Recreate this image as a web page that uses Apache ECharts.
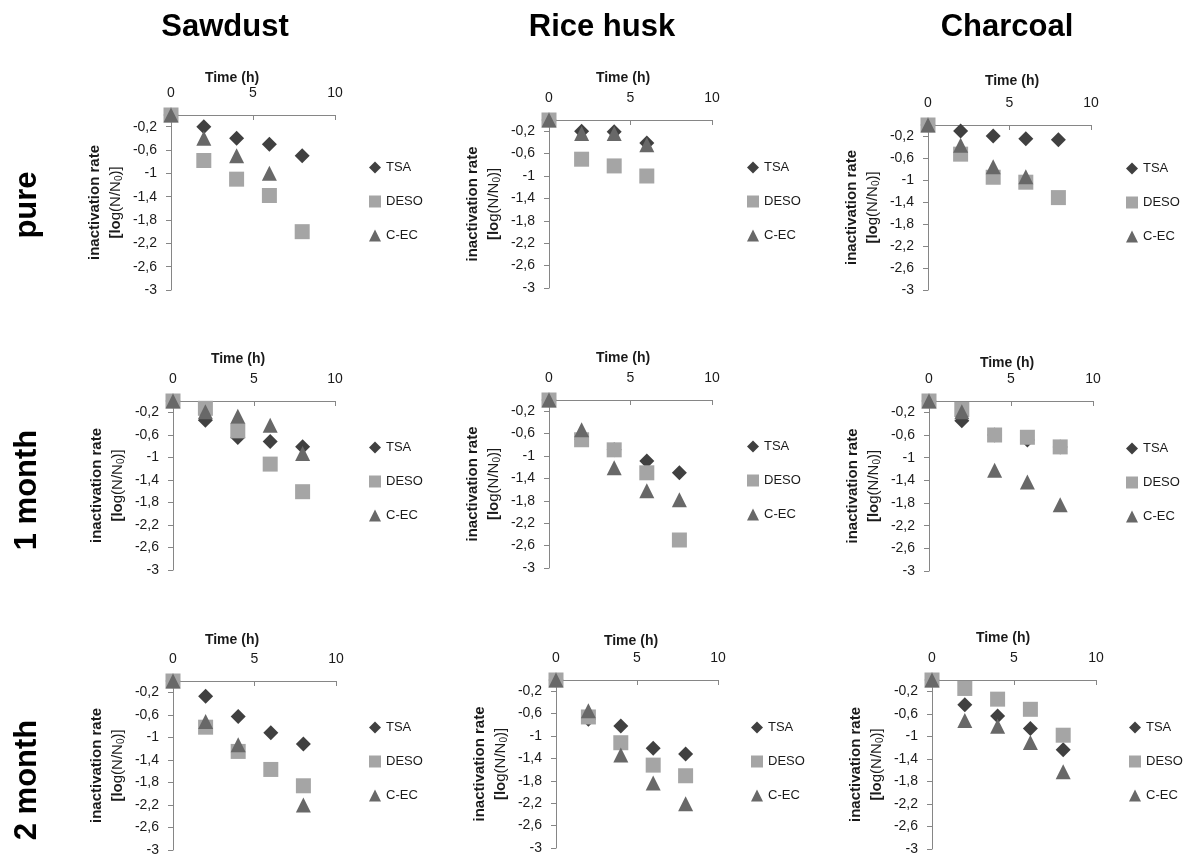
<!DOCTYPE html>
<html>
<head>
<meta charset="utf-8">
<script src="https://cdn.jsdelivr.net/npm/echarts@6/dist/echarts.min.js"></script>
<style>
  html, body { margin: 0; padding: 0; background: #ffffff; }
  #chart { width: 1185px; height: 857px; }
</style>
</head>
<body>
<div id="chart"></div>
<script>
// ---- categories and ticks ----
const materials = ['Sawdust', 'Rice husk', 'Charcoal'];
const ages = ['pure', '1 month', '2 month'];
const seriesNames = ['TSA', 'DESO', 'C-EC'];
const timePoints = [0, 2, 4, 6, 8];
const yTicks = [-3, -2.6, -2.2, -1.8, -1.4, -1, -0.6, -0.2];

// ---- inactivation rate log(N/N0) at each time point (null = not measured) ----
// pure
const sawdustPureTSA   = [0, -0.20, -0.40, -0.50, -0.70];
const sawdustPureDESO  = [0, -0.78, -1.10, -1.38, -2.00];
const sawdustPureCEC   = [0, -0.40, -0.70, -1.00, null];
const riceHuskPureTSA  = [0, -0.20, -0.21, -0.41, null];
const riceHuskPureDESO = [0, -0.70, -0.82, -1.00, null];
const riceHuskPureCEC  = [0, -0.24, -0.24, -0.44, null];
const charcoalPureTSA  = [0, -0.11, -0.20, -0.25, -0.27];
const charcoalPureDESO = [0, -0.53, -0.95, -1.04, -1.32];
const charcoalPureCEC  = [0, -0.37, -0.76, -0.94, null];
// 1 month
const sawdust1mTSA   = [0, -0.34, -0.65, -0.72, -0.81];
const sawdust1mDESO  = [0, -0.13, -0.53, -1.12, -1.61];
const sawdust1mCEC   = [0, -0.19, -0.27, -0.43, -0.93];
const riceHusk1mTSA  = [0, -0.70, -0.89, -1.09, -1.30];
const riceHusk1mDESO = [0, -0.71, -0.89, -1.30, -2.50];
const riceHusk1mCEC  = [0, -0.53, -1.21, -1.62, -1.78];
const charcoal1mTSA  = [0, -0.35, -0.60, -0.69, -0.81];
const charcoal1mDESO = [0, -0.15, -0.60, -0.64, -0.81];
const charcoal1mCEC  = [0, -0.19, -1.22, -1.43, -1.83];
// 2 month
const sawdust2mTSA   = [0, -0.27, -0.63, -0.92, -1.12];
const sawdust2mDESO  = [0, -0.82, -1.25, -1.57, -1.86];
const sawdust2mCEC   = [0, -0.72, -1.13, null, -2.20];
const riceHusk2mTSA  = [0, -0.70, -0.82, -1.22, -1.32];
const riceHusk2mDESO = [0, -0.66, -1.12, -1.52, -1.71];
const riceHusk2mCEC  = [0, -0.55, -1.34, -1.84, -2.21];
const charcoal2mTSA  = [0, -0.44, -0.64, -0.86, -1.24];
const charcoal2mDESO = [0, -0.15, -0.34, -0.52, -0.98];
const charcoal2mCEC  = [0, -0.72, -0.82, -1.11, -1.63];

// panels in reading order (row = age, column = material)
const panelSeries = [
  [sawdustPureTSA, sawdustPureDESO, sawdustPureCEC],
  [riceHuskPureTSA, riceHuskPureDESO, riceHuskPureCEC],
  [charcoalPureTSA, charcoalPureDESO, charcoalPureCEC],
  [sawdust1mTSA, sawdust1mDESO, sawdust1mCEC],
  [riceHusk1mTSA, riceHusk1mDESO, riceHusk1mCEC],
  [charcoal1mTSA, charcoal1mDESO, charcoal1mCEC],
  [sawdust2mTSA, sawdust2mDESO, sawdust2mCEC],
  [riceHusk2mTSA, riceHusk2mDESO, riceHusk2mCEC],
  [charcoal2mTSA, charcoal2mDESO, charcoal2mCEC]
];

// ---- layout (pixel boxes of each plot area, legend and time title) ----
const panelBoxes = [
  { l: 171, r: 335,  t: 115, b: 290, lgX: 375,  lgY: 167, tx: 232,  ty: 77 },
  { l: 549, r: 712,  t: 120, b: 288, lgX: 753,  lgY: 167, tx: 623,  ty: 77 },
  { l: 928, r: 1091, t: 125, b: 290, lgX: 1132, lgY: 168, tx: 1012, ty: 80 },
  { l: 173, r: 335,  t: 401, b: 570, lgX: 375,  lgY: 447, tx: 238,  ty: 358 },
  { l: 549, r: 712,  t: 400, b: 568, lgX: 753,  lgY: 446, tx: 623,  ty: 357 },
  { l: 929, r: 1093, t: 401, b: 571, lgX: 1132, lgY: 448, tx: 1007, ty: 362 },
  { l: 173, r: 336,  t: 681, b: 850, lgX: 375,  lgY: 727, tx: 232,  ty: 639 },
  { l: 556, r: 718,  t: 680, b: 848, lgX: 757,  lgY: 727, tx: 631,  ty: 640 },
  { l: 932, r: 1096, t: 680, b: 849, lgX: 1135, lgY: 727, tx: 1003, ty: 637 }
];
const columnTitleX = [225, 602, 1007];
const rowLabelY = [205, 490, 780];

const FONT = '"Liberation Sans", Arial, sans-serif';
const TEXT = '#1a1a1a';
const AXIS = '#868686';
const markerStyles = [
  { symbol: 'diamond',  icon: 'diamond',  size: 15, color: '#404040' },
  { symbol: 'rect',     icon: 'rect',     size: 15, color: '#a5a5a5' },
  { symbol: 'triangle', icon: 'triangle', size: 15, color: '#686868' }
];

const grids = [], xAxes = [], yAxes = [], series = [], legends = [];

panelBoxes.forEach((p, i) => {
  grids.push({ left: p.l, top: p.t, width: p.r - p.l, height: p.b - p.t, containLabel: false });

  const shift = p.tx - (p.l + p.r) / 2;
  const namePad = shift < 0 ? [0, -2 * shift, 0, 0] : [0, 0, 0, 2 * shift];
  xAxes.push({
    gridIndex: i, type: 'value', position: 'top',
    min: 0, max: 10, interval: 5,
    axisLine: { show: true, onZero: false, lineStyle: { color: AXIS, width: 1 } },
    axisTick: { show: true, inside: true, length: 5, lineStyle: { color: AXIS } },
    axisLabel: { margin: 15, color: TEXT, fontSize: 14, fontFamily: FONT },
    splitLine: { show: false },
    name: 'Time (h)', nameLocation: 'middle', nameGap: p.t - p.ty - 8,
    nameTextStyle: { fontWeight: 'bold', fontSize: 14, fontFamily: FONT, color: TEXT, padding: namePad }
  });

  yAxes.push({
    gridIndex: i, type: 'value', min: -3, max: 0,
    axisLine: { show: true, onZero: false, lineStyle: { color: AXIS, width: 1 } },
    axisTick: { show: true, length: 5, customValues: yTicks, lineStyle: { color: AXIS } },
    axisLabel: {
      customValues: yTicks, margin: 14, color: TEXT, fontSize: 14, fontFamily: FONT,
      formatter: v => String(v).replace('.', ',')
    },
    splitLine: { show: false },
    name: '{b|inactivation rate}\n{b|[lo}{n|g(N/N}{s|0}{n|)]}',
    nameLocation: 'middle', nameRotate: 90, nameGap: 45,
    nameTextStyle: {
      color: TEXT, lineHeight: 21,
      rich: {
        b: { fontWeight: 'bold', fontSize: 15, fontFamily: FONT, color: TEXT, lineHeight: 21 },
        n: { fontWeight: 'normal', fontSize: 15, fontFamily: FONT, color: TEXT, lineHeight: 21 },
        s: { fontWeight: 'normal', fontSize: 10, fontFamily: FONT, color: TEXT, padding: [7, 0, 0, 0] }
      }
    }
  });

  panelSeries[i].forEach((values, k) => {
    const m = markerStyles[k];
    series.push({
      type: 'scatter', name: seriesNames[k],
      xAxisIndex: i, yAxisIndex: i,
      symbol: m.symbol, symbolSize: m.size,
      itemStyle: { color: m.color, opacity: 1 },
      emphasis: { disabled: true },
      data: timePoints.map((t, j) => [t, values[j]]).filter(d => d[1] !== null)
    });
  });

  legends.push({
    orient: 'vertical', left: p.lgX - 6, top: p.lgY - 6, padding: 0,
    itemWidth: 12, itemHeight: 12, itemGap: 21,
    selectedMode: false,
    textStyle: { fontSize: 13, fontFamily: FONT, color: TEXT },
    data: seriesNames.map((n, k) => ({ name: n, icon: markerStyles[k].icon,
      itemStyle: { color: markerStyles[k].color } }))
  });
});

const graphics = [];
materials.forEach((m, c) => {
  graphics.push({
    type: 'text', x: columnTitleX[c], y: 27,
    style: { text: m, font: 'bold 31px ' + FONT, fill: '#000', align: 'center', verticalAlign: 'middle' }
  });
});
ages.forEach((a, r) => {
  graphics.push({
    type: 'text', x: 27, y: rowLabelY[r], rotation: Math.PI / 2,
    style: { text: a, font: 'bold 31px ' + FONT, fill: '#000', align: 'center', verticalAlign: 'middle' }
  });
});

const chart = echarts.init(document.getElementById('chart'), null, { renderer: 'canvas' });
chart.setOption({
  animation: false,
  backgroundColor: '#ffffff',
  grid: grids, xAxis: xAxes, yAxis: yAxes,
  legend: legends, series: series,
  graphic: graphics,
  tooltip: { show: false }
});
</script>
</body>
</html>
